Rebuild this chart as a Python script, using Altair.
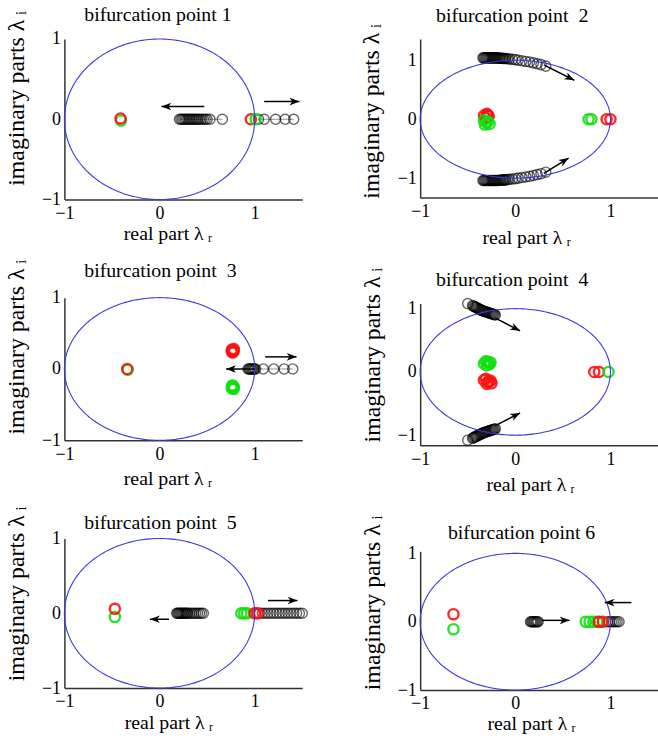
import math
import altair as alt
import numpy as np
import pandas as pd

# ---------------- data ----------------
panel_titles = ["bifurcation point 1", "bifurcation point\u00a0 2", "bifurcation point\u00a0 3",
                "bifurcation point\u00a0 4", "bifurcation point\u00a0 5", "bifurcation point 6"]
axis_ticks = [-1, 0, 1]
x_label = "real part λ\u2009ᵣ"
y_label = "imaginary parts λ\u2009ᵢ"

# panel 1
p1_black_x = [0.21, 0.225, 0.24, 0.255, 0.27, 0.285, 0.30, 0.315, 0.33, 0.345, 0.36, 0.375, 0.39, 0.405,
              0.42, 0.44, 0.46, 0.48, 0.50, 0.53, 0.66,
              1.04, 1.10, 1.22, 1.32, 1.41]
p1_black_y = [0, 0, 0, 0, 0, 0, 0, 0, 0, 0, 0, 0, 0, 0, 0, 0, 0, 0, 0, 0, 0, 0, 0, 0, 0, 0]
p1_black_seg = [0, 0, 0, 0, 0, 0, 0, 0, 0, 0, 0, 0, 0, 0, 0, 0, 0, 0, 0, 0, 0, 1, 1, 1, 1, 1]
p1_col_x = [-0.405, -0.41, 0.96, 1.01]
p1_col_y = [-0.015, 0.01, 0.0, 0.0]
p1_col_c = ["green", "red", "red", "green"]
p1_arrow = {"x": [0.47, 1.10], "y": [0.16, 0.22], "x2": [0.02, 1.47], "y2": [0.16, 0.22]}

# panel 2
p2_black_x = [-0.34, -0.33, -0.32, -0.31, -0.30, -0.29, -0.28, -0.27, -0.26, -0.25, -0.24, -0.23, -0.22,
              -0.21, -0.20, -0.19, -0.18, -0.17, -0.16, -0.15, -0.14, -0.13, -0.12, -0.11, -0.10,
              -0.08, -0.06, -0.03, 0.0, 0.03, 0.07, 0.11, 0.15, 0.19, 0.23, 0.27, 0.32,
              -0.34, -0.33, -0.32, -0.31, -0.30, -0.29, -0.28, -0.27, -0.26, -0.25, -0.24, -0.23, -0.22,
              -0.21, -0.20, -0.19, -0.18, -0.17, -0.16, -0.15, -0.14, -0.13, -0.12, -0.11, -0.10,
              -0.08, -0.06, -0.03, 0.0, 0.03, 0.07, 0.11, 0.15, 0.19, 0.23, 0.27, 0.32]
p2_black_y = [1.04, 1.04, 1.04, 1.04, 1.04, 1.04, 1.04, 1.04, 1.04, 1.04, 1.04, 1.04, 1.04,
              1.04, 1.04, 1.04, 1.04, 1.035, 1.035, 1.035, 1.035, 1.03, 1.03, 1.03, 1.03,
              1.025, 1.02, 1.015, 1.01, 1.0, 0.99, 0.98, 0.97, 0.955, 0.94, 0.925, 0.90,
              -1.04, -1.04, -1.04, -1.04, -1.04, -1.04, -1.04, -1.04, -1.04, -1.04, -1.04, -1.04, -1.04,
              -1.04, -1.04, -1.04, -1.04, -1.035, -1.035, -1.035, -1.035, -1.03, -1.03, -1.03, -1.03,
              -1.025, -1.02, -1.015, -1.01, -1.0, -0.99, -0.98, -0.97, -0.955, -0.94, -0.925, -0.90]
p2_black_seg = None
p2_col_x = [-0.33, -0.30, -0.28, -0.31, -0.29, -0.33, -0.30, -0.27, -0.32, -0.29, 0.77, 0.80, 0.96, 1.0]
p2_col_y = [0.06, 0.09, 0.05, 0.02, 0.07, -0.02, -0.06, -0.08, -0.09, -0.04, 0.0, 0.0, 0.0, 0.0]
p2_col_c = ["red", "red", "red", "red", "red", "green", "green", "green", "green", "green",
            "green", "green", "red", "red"]
p2_arrow = {"x": [0.30, 0.30], "y": [0.92, -0.92], "x2": [0.62, 0.56], "y2": [0.66, -0.66]}

# panel 3
p3_black_x = [0.93, 0.94, 0.95, 0.96, 0.97, 0.98, 0.99, 1.0, 1.01, 1.09, 1.20, 1.31, 1.40]
p3_black_y = [0, 0, 0, 0, 0, 0, 0, 0, 0, 0, 0, 0, 0]
p3_black_seg = [0, 0, 0, 0, 0, 0, 0, 0, 0, 0, 0, 0, 0]
p3_col_x = [-0.335, -0.34, 0.76, 0.78, 0.77, 0.78, 0.76, 0.77, 0.76, 0.78, 0.77, 0.78, 0.76, 0.77]
p3_col_y = [-0.012, 0.0, 0.27, 0.25, 0.23, 0.28, 0.24, 0.26, -0.27, -0.25, -0.23, -0.28, -0.24, -0.26]
p3_col_c = ["green", "red", "red", "red", "red", "red", "red", "red",
            "green", "green", "green", "green", "green", "green"]
p3_arrow = {"x": [1.0, 1.11], "y": [0.0, 0.17], "x2": [0.70, 1.44], "y2": [0.0, 0.17]}

# panel 4
p4_black_x = [-0.50, -0.45, -0.44, -0.43, -0.42, -0.41, -0.40, -0.39, -0.38, -0.37, -0.36, -0.35, -0.34, -0.33,
              -0.32, -0.31, -0.30, -0.29, -0.28, -0.27, -0.26, -0.25, -0.24, -0.23, -0.22, -0.21,
              -0.50, -0.45, -0.44, -0.43, -0.42, -0.41, -0.40, -0.39, -0.38, -0.37, -0.36, -0.35, -0.34, -0.33,
              -0.32, -0.31, -0.30, -0.29, -0.28, -0.27, -0.26, -0.25, -0.24, -0.23, -0.22, -0.21]
p4_black_y = [1.08, 1.05, 1.04, 1.03, 1.025, 1.02, 1.01, 1.0, 0.995, 0.99, 0.98, 0.97, 0.965, 0.96,
              0.955, 0.95, 0.945, 0.94, 0.935, 0.93, 0.925, 0.92, 0.915, 0.91, 0.905, 0.90,
              -1.08, -1.05, -1.04, -1.03, -1.025, -1.02, -1.01, -1.0, -0.995, -0.99, -0.98, -0.97, -0.965, -0.96,
              -0.955, -0.95, -0.945, -0.94, -0.935, -0.93, -0.925, -0.92, -0.915, -0.91, -0.905, -0.90]
p4_black_seg = None
p4_col_x = [-0.33, -0.29, -0.26, -0.30, -0.27, -0.31, -0.28, -0.33, -0.29, -0.25, -0.30, -0.26, -0.31, -0.28,
            0.83, 0.88, 0.98]
p4_col_y = [0.13, 0.16, 0.15, 0.10, 0.12, 0.17, 0.14, -0.13, -0.16, -0.18, -0.19, -0.14, -0.11, -0.15,
            0.0, 0.0, 0.0]
p4_col_c = ["green", "green", "green", "green", "green", "green", "green",
            "red", "red", "red", "red", "red", "red", "red", "red", "red", "green"]
p4_arrow = {"x": [-0.21, -0.21], "y": [0.85, -0.85], "x2": [0.05, 0.05], "y2": [0.65, -0.65]}

# panel 5
p5_black_x = [0.18, 0.19, 0.20, 0.21, 0.22, 0.23, 0.24, 0.25, 0.26, 0.27, 0.28, 0.29, 0.30, 0.32, 0.34,
              0.36, 0.38, 0.40, 0.42, 0.44, 0.46,
              1.05, 1.08, 1.11, 1.14, 1.17, 1.20, 1.23, 1.26, 1.29, 1.32, 1.35, 1.38, 1.41, 1.44, 1.47, 1.50]
p5_black_y = [0, 0, 0, 0, 0, 0, 0, 0, 0, 0, 0, 0, 0, 0, 0, 0, 0, 0, 0, 0, 0,
              0, 0, 0, 0, 0, 0, 0, 0, 0, 0, 0, 0, 0, 0, 0, 0]
p5_black_seg = None
p5_col_x = [-0.47, -0.47, 0.86, 0.89, 0.92, 1.0, 1.03]
p5_col_y = [-0.05, 0.06, 0.0, 0.0, 0.0, 0.0, 0.0]
p5_col_c = ["green", "red", "green", "green", "green", "red", "red"]
p5_arrow = {"x": [0.10, 1.14], "y": [-0.08, 0.17], "x2": [-0.10, 1.45], "y2": [-0.08, 0.17]}

# panel 6
p6_black_x = [0.16, 0.17, 0.18, 0.19, 0.20, 0.21, 0.22, 0.23, 0.24, 0.97, 0.99, 1.01, 1.03, 1.05, 1.07, 1.09]
p6_black_y = [0, 0, 0, 0, 0, 0, 0, 0, 0, 0, 0, 0, 0, 0, 0, 0]
p6_black_seg = None
p6_col_x = [-0.65, -0.65, 0.74, 0.78, 0.82, 0.86, 0.88, 0.92]
p6_col_y = [0.11, -0.11, 0.0, 0.0, 0.0, 0.0, 0.0, 0.0]
p6_col_c = ["red", "green", "green", "green", "green", "green", "red", "red"]
p6_arrow = {"x": [0.28, 1.22], "y": [0.02, 0.28], "x2": [0.57, 0.94], "y2": [0.02, 0.28]}

# ---------------- layout / style ----------------
FONT = "Liberation Serif"
X_DOMAIN = [-1, 1.5]
PANEL_W = 240
HEAD = "M0,0L-0.7,1.8L0,1.3L0.7,1.8Z"

panels_cfg = [
    dict(bx=p1_black_x, by=p1_black_y, seg=p1_black_seg, cx=p1_col_x, cy=p1_col_y, cc=p1_col_c, ar=p1_arrow,
         ydom=[-1, 1], h=162, tdx=20, toff=-30, xt=(104, 34), yt=(-48, 59.5)),
    dict(bx=p2_black_x, by=p2_black_y, seg=p2_black_seg, cx=p2_col_x, cy=p2_col_y, cc=p2_col_c, ar=p2_arrow,
         ydom=[-1.33, 1.36], h=160, tdx=16, toff=-18, xt=(107, 40), yt=(-49.5, 72.5)),
    dict(bx=p3_black_x, by=p3_black_y, seg=p3_black_seg, cx=p3_col_x, cy=p3_col_y, cc=p3_col_c, ar=p3_arrow,
         ydom=[-1, 1], h=144, tdx=20, toff=-38, xt=(104, 39), yt=(-48, 49.5)),
    dict(bx=p4_black_x, by=p4_black_y, seg=p4_black_seg, cx=p4_col_x, cy=p4_col_y, cc=p4_col_c, ar=p4_arrow,
         ydom=[-1.16, 1.08], h=143, tdx=16, toff=-39, xt=(111, 40), yt=(-48.5, 51.5)),
    dict(bx=p5_black_x, by=p5_black_y, seg=p5_black_seg, cx=p5_col_x, cy=p5_col_y, cc=p5_col_c, ar=p5_arrow,
         ydom=[-1, 1], h=151, tdx=20, toff=-43, xt=(105, 35), yt=(-48, 55.5)),
    dict(bx=p6_black_x, by=p6_black_y, seg=p6_black_seg, cx=p6_col_x, cy=p6_col_y, cc=p6_col_c, ar=p6_arrow,
         ydom=[-1, 1.03], h=140, tdx=28, toff=-44, xt=(112, 34), yt=(-48.5, 51.5)),
]

theta = np.linspace(0, 2 * np.pi, 241)
circle_df = pd.DataFrame({"cx": np.cos(theta), "cy": np.sin(theta), "k": np.arange(len(theta))})


def make_panel(i, cfg):
    xs = alt.Scale(domain=X_DOMAIN, nice=False, zero=False)
    ys = alt.Scale(domain=cfg["ydom"], nice=False, zero=False)
    sx = PANEL_W / (X_DOMAIN[1] - X_DOMAIN[0])
    sy = cfg["h"] / (cfg["ydom"][1] - cfg["ydom"][0])

    black_df = pd.DataFrame({"x": cfg["bx"], "y": cfg["by"]})
    col_df = pd.DataFrame({"x": cfg["cx"], "y": cfg["cy"], "c": cfg["cc"], "i": range(len(cfg["cx"]))})
    ar = pd.DataFrame(cfg["ar"])
    ar["ang"] = [
        math.degrees(math.atan2((x2 - x1) * sx, (y2 - y1) * sy)) % 360
        for x1, y1, x2, y2 in zip(ar["x"], ar["y"], ar["x2"], ar["y2"])
    ]

    layers = [
        alt.Chart(circle_df).mark_line(color="#3838e0", strokeWidth=1.1, opacity=0).encode(
            x=alt.X("cx:Q", scale=xs,
                    axis=alt.Axis(values=axis_ticks, format=".0f", title=x_label, labelOverlap=False,
                                  labelPadding=5,
                                  titleX=cfg["xt"][0], titleY=cfg["xt"][1],
                                  titleBaseline="middle", titleAlign="center")),
            y=alt.Y("cy:Q", scale=ys,
                    axis=alt.Axis(values=axis_ticks, format=".0f", title=y_label, labelOverlap=False,
                                  titleX=cfg["yt"][0], titleY=cfg["yt"][1],
                                  titleAngle=270, titleBaseline="middle", titleAlign="center",
                                  titleFontSize=24)),
            order="k:Q",
        )
    ]
    if cfg["seg"] is not None:
        black_df["seg"] = cfg["seg"]
        layers.append(
            alt.Chart(black_df).mark_line(color="#666666", strokeWidth=1, opacity=0.7).encode(
                x=alt.X("x:Q", scale=xs), y=alt.Y("y:Q", scale=ys), detail="seg:N",
            )
        )
    layers.append(
        alt.Chart(black_df).mark_point(shape="circle", filled=False, size=105, strokeWidth=1.4,
                                       color="black", opacity=0.6).encode(
            x=alt.X("x:Q", scale=xs), y=alt.Y("y:Q", scale=ys),
        )
    )
    layers.append(
        alt.Chart(col_df).mark_point(shape="circle", filled=False, size=105, strokeWidth=2.4,
                                     opacity=0.9).encode(
            x=alt.X("x:Q", scale=xs), y=alt.Y("y:Q", scale=ys),
            color=alt.Color("c:N", scale=alt.Scale(domain=["red", "green"], range=["#ff1010", "#10e010"]),
                            legend=None),
            order=alt.Order("i:Q"),
        )
    )
    layers.append(
        alt.Chart(circle_df).mark_line(color="#3838e0", strokeWidth=1.1).encode(
            x=alt.X("cx:Q", scale=xs), y=alt.Y("cy:Q", scale=ys), order="k:Q",
        )
    )
    layers.append(
        alt.Chart(ar).mark_rule(color="black", strokeWidth=1.5).encode(
            x=alt.X("x:Q", scale=xs), y=alt.Y("y:Q", scale=ys), x2="x2:Q", y2="y2:Q",
        )
    )
    layers.append(
        alt.Chart(ar).mark_point(shape=HEAD, filled=True, color="black", size=120, opacity=1).encode(
            x=alt.X("x2:Q", scale=xs), y=alt.Y("y2:Q", scale=ys),
            angle=alt.Angle("ang:Q", scale=None),
        )
    )
    return alt.layer(*layers).properties(
        width=PANEL_W, height=cfg["h"],
        title=alt.TitleParams(panel_titles[i], anchor="start", frame="group", dx=cfg["tdx"],
                              offset=cfg["toff"], baseline="alphabetic", font=FONT, fontSize=20,
                              fontWeight="normal", color="black"),
    )


panels = [make_panel(i, c) for i, c in enumerate(panels_cfg)]
left = alt.vconcat(panels[0], panels[2], panels[4], spacing=99, bounds="flush")
right = alt.vconcat(panels[1], panels[3], panels[5], spacing=107, bounds="flush")

chart = alt.hconcat(left, right, spacing=359, bounds="flush").properties(
    padding={"left": 4, "top": 1, "right": 0, "bottom": 0}
).configure_view(stroke=None).configure_axis(
    grid=False, ticks=False, domainColor="#333333", domainWidth=1.5,
    labelFont=FONT, labelFontSize=18, labelColor="black", labelPadding=4,
    labelFlush=False, labelOverlap=False,
    titleFont=FONT, titleFontSize=20, titleFontWeight="normal", titleColor="black",
)

chart.save("out.html", embed_options={"renderer": "svg", "actions": False})
